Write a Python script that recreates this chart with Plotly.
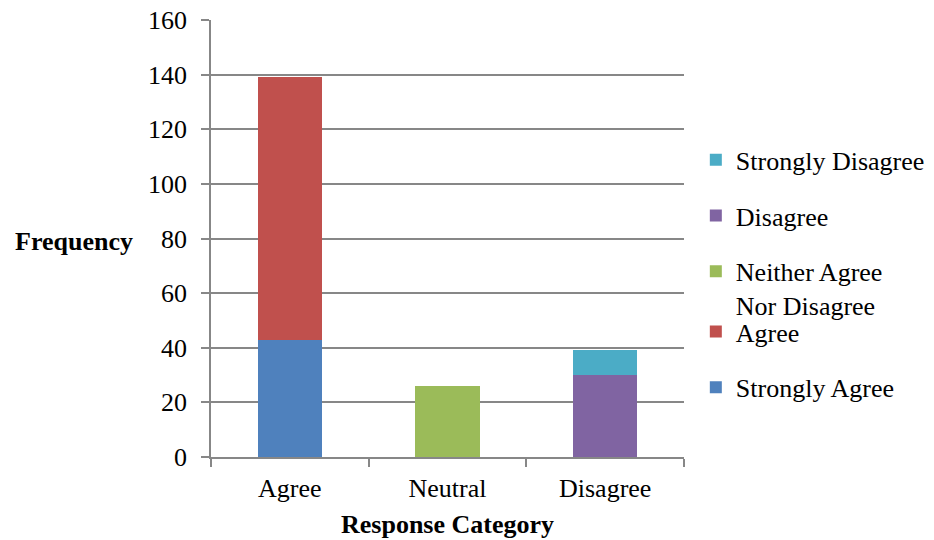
import plotly.graph_objects as go

categories = ["Agree", "Neutral", "Disagree"]
series_names = ["Strongly Agree", "Agree", "Neither Agree<br>Nor Disagree", "Disagree", "Strongly Disagree"]
strongly_agree = [43, 0, 0]
agree = [96, 0, 0]
neither = [0, 26, 0]
disagree = [0, 0, 30]
strongly_disagree = [0, 0, 9]
y_ticks = [0, 20, 40, 60, 80, 100, 120, 140, 160]

colors = ["#4F81BD", "#C0504D", "#9BBB59", "#8064A2", "#4BACC6"]
values = [strongly_agree, agree, neither, disagree, strongly_disagree]
legend_ids = ["legend2", "legend2", "legend", "legend", "legend"]

FONT = "Liberation Serif, Times New Roman, serif"
FS = 26

fig = go.Figure()
for i, (name, vals) in enumerate(zip(series_names, values)):
    fig.add_trace(go.Bar(
        x=categories, y=vals, name=name, marker_color=colors[i],
        marker_line_width=0, legendgroup=f"g{i}", legendrank=10 - i,
        legend=legend_ids[i],
    ))

legend_common = dict(
    traceorder="grouped", tracegroupgap=19,
    xanchor="left", yanchor="top", valign="top",
    font=dict(family=FONT, size=FS, color="black"),
    itemwidth=30, bgcolor="rgba(0,0,0,0)",
)

# the page's default 8px body margin shifts the figure; margins compensate for it
fig.update_layout(
    width=934, height=540,
    barmode="stack", bargap=0.594,
    plot_bgcolor="white", paper_bgcolor="white",
    margin=dict(l=203, r=258, t=12, b=91),
    font=dict(family=FONT, size=FS, color="black"),
    legend=dict(x=1.025, y=0.734, **legend_common),
    legend2=dict(x=1.025, y=0.341, **legend_common),
    showlegend=True,
)
fig.update_yaxes(
    range=[0, 160], tickvals=y_ticks, showgrid=True,
    gridcolor="#878787", gridwidth=1.5,
    showline=True, linecolor="#878787", linewidth=1.5,
    ticks="outside", ticklen=8, tickcolor="#878787", tickwidth=1.5,
    ticklabelstandoff=9, zeroline=False, ticklabeloverflow="allow",
    automargin=False,
)
fig.update_xaxes(
    showline=True, linecolor="#878787", linewidth=1.5,
    ticks="outside", ticklen=8, tickcolor="#878787", tickwidth=1.5,
    tickson="boundaries", ticklabelstandoff=7, automargin=False,
    title=dict(text="<b>Response Category</b>", standoff=13,
               font=dict(family=FONT, size=FS)),
)
fig.add_annotation(
    text="<b>Frequency</b>", xref="paper", yref="paper",
    x=-0.161, y=0.494, xanchor="right", yanchor="middle",
    showarrow=False, font=dict(family=FONT, size=FS, color="black"),
)
fig.write_html("out.html", config={"displayModeBar": False})
